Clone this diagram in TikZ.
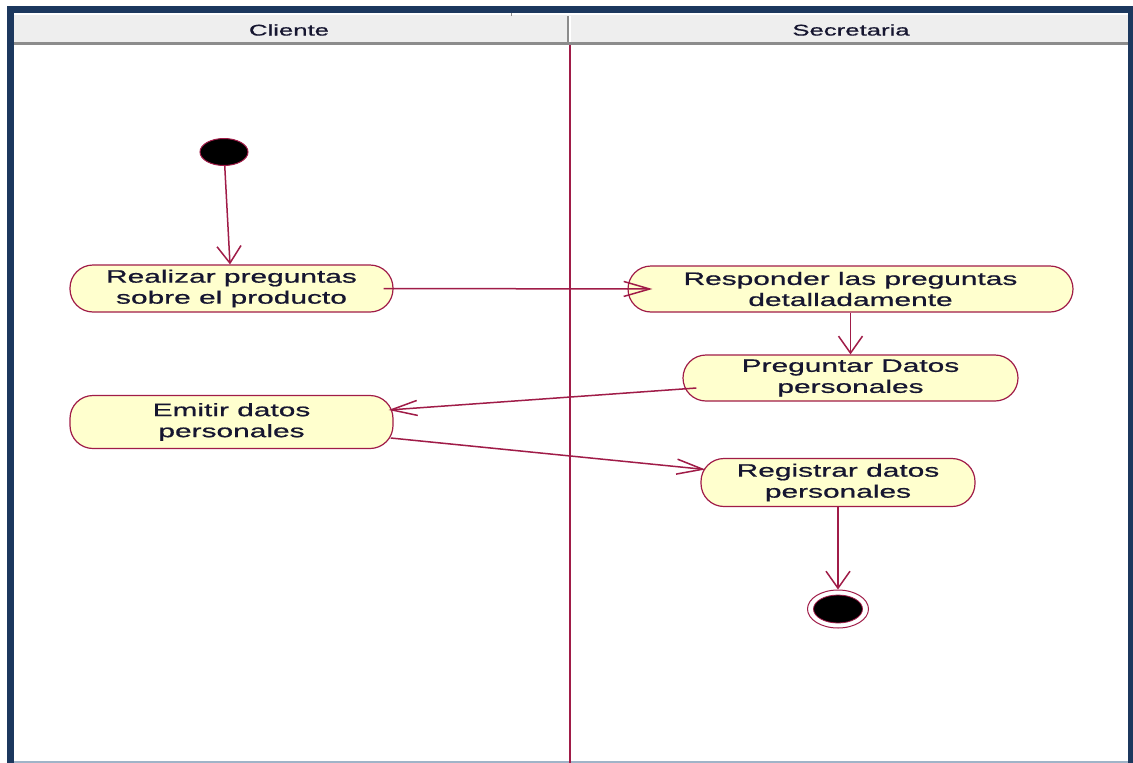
\documentclass[tikz,border=0pt]{standalone}
\usepackage{fontspec}
\setmainfont{Liberation Sans}[FakeStretch=1.66,FakeBold=0.8]
\usetikzlibrary{arrows.meta,shapes.geometric}
\definecolor{navy}{RGB}{28,56,94}
\definecolor{crim}{RGB}{160,28,72}
\definecolor{actfill}{RGB}{255,255,206}
\definecolor{txt}{RGB}{22,22,48}
\definecolor{hdr}{RGB}{238,238,238}
\definecolor{hdrline}{RGB}{140,140,140}
\definecolor{botline}{RGB}{160,180,200}
\begin{document}
\begin{tikzpicture}[x=1pt,y=-1pt,
 act/.style={draw=crim, line width=1.2pt, fill=actfill, rounded corners=23pt, align=center,
   text=txt, font=\fontsize{18}{21}\selectfont, inner sep=0pt},
 flow/.style={draw=crim, line width=1.5pt},
 vtip/.style={-{Straight Barb[length=17pt,width=24pt]}},
 htip/.style={-{Straight Barb[length=26pt,width=15pt]}},
 lanehead/.style={font=\fontsize{15.5}{18}\selectfont, text=txt}
]
\useasboundingbox (0,0) rectangle (1133,763);
\fill[white] (0,0) rectangle (1133,763);
% frame
\fill[navy] (7,6) rectangle (1133,13);
\fill[navy] (7,6) rectangle (14,763);
\fill[navy] (1128,6) rectangle (1133,763);
\fill[botline] (14,761) rectangle (1128,763);
% header
\fill[hdr] (14,15) rectangle (1128,42);
\fill[hdrline] (14,42) rectangle (1128,45);
\fill[hdrline] (567,16) rectangle (569,42);
\fill[white] (569,16) rectangle (570.5,42);
\draw[hdrline, line width=1pt] (511,13) -- (511,16);
\node[lanehead] (hcli) at (289,30) {Cliente};
\node[lanehead] (hsec) at (851,30) {Secretaria};
% lane divider
\draw[crim, line width=2pt] (569.5,45) -- (569.5,763);

% nodes
\node[ellipse, draw=crim, fill=black, line width=1pt, minimum width=48pt, minimum height=27pt, inner sep=0pt] (start) at (224,152) {};
\node[act, minimum width=323pt, minimum height=47pt] (n1) at (231.5,288.5) {Realizar preguntas\\sobre el producto};
\node[act, minimum width=445pt, minimum height=46pt] (n2) at (850.5,289) {Responder las preguntas\\detalladamente};
\node[act, minimum width=335pt, minimum height=46pt] (n3) at (850.5,378) {Preguntar Datos\\personales};
\node[act, minimum width=323pt, minimum height=53pt] (n4) at (231.5,422) {Emitir datos\\personales};
\node[act, minimum width=274pt, minimum height=48pt] (n5) at (838,482.5) {Registrar datos\\personales};
\node[ellipse, draw=crim, fill=white, line width=1pt, minimum width=61pt, minimum height=38pt, inner sep=0pt] (end) at (838,609) {};
\node[ellipse, draw=crim, fill=black, line width=0.8pt, minimum width=49pt, minimum height=28pt, inner sep=0pt] (endin) at (838,609) {};

% connectors
\draw[flow, vtip] (start) -- ([xshift=-1.5pt]n1.north);
\draw[flow, htip] ([xshift=-10pt]n1.east) -- ([xshift=25pt]n2.west);
\draw[flow, vtip] (n2.south) -- (n3.north);
\draw[flow, htip] ([xshift=14pt,yshift=-10pt]n3.west) -- ([xshift=-5pt,yshift=12pt]n4.east);
\draw[flow, htip] ([xshift=-3pt,yshift=-16pt]n4.east) -- ([xshift=5pt,yshift=13pt]n5.west);
\draw[flow, vtip] (n5.south) -- (end.north);
\end{tikzpicture}
\end{document}
